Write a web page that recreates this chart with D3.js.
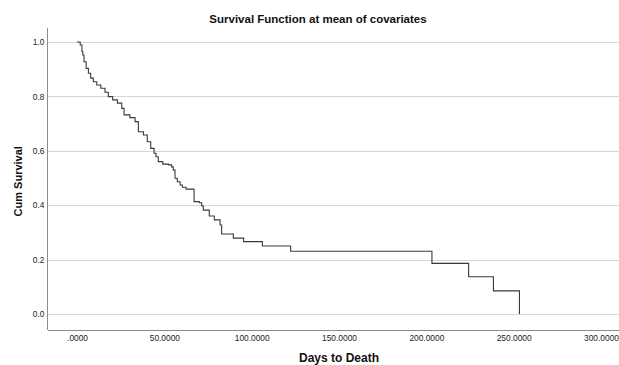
<!DOCTYPE html>
<html>
<head>
<meta charset="utf-8">
<script src="https://cdn.jsdelivr.net/npm/d3@7"></script>
<style>
  body { margin: 0; background: #fff; }
  svg { display: block; font-family: "Liberation Sans", Arial, sans-serif; }
</style>
</head>
<body>
<div id="container"></div>
<script>
/* DATA */
// event times (days) and cumulative survival just after each step
const times = [0, 1.8, 2.8, 3.3, 4.0, 5.2, 6.5, 7.8, 9.3, 11.3, 13.6, 16.0, 17.9, 20.4, 23.1, 25.6,
  26.9, 30.3, 33.2, 35.1, 38.0, 40.2, 42.2, 44.1, 45.2, 46.5, 49.1, 52.3, 54.2, 55.1, 56.1, 57.4,
  59.0, 60.3, 62.4, 67.0, 70.0, 71.4, 72.3, 75.7, 78.6, 81.9, 82.8, 89.5, 95.4, 106.1, 122.3,
  203.2, 224.2, 238.4, 253.3];
const survival = [1.000, 0.989, 0.965, 0.952, 0.927, 0.903, 0.885, 0.867, 0.854, 0.842, 0.830, 0.815,
  0.799, 0.787, 0.775, 0.756, 0.732, 0.722, 0.707, 0.670, 0.658, 0.633, 0.609, 0.591, 0.578, 0.560,
  0.551, 0.548, 0.541, 0.529, 0.499, 0.486, 0.474, 0.466, 0.459, 0.413, 0.409, 0.397, 0.382, 0.360,
  0.346, 0.327, 0.294, 0.279, 0.266, 0.250, 0.2305, 0.186, 0.137, 0.085, 0.000];
const xTicks = [0, 50, 100, 150, 200, 250, 300];
const yTicks = [0, 0.2, 0.4, 0.6, 0.8, 1.0];

/* CONSTANTS */
const width = 619, height = 365;
const plot = { left: 47, right: 619, top: 27, bottom: 329.5 };

const svg = d3.select("#container").append("svg")
  .attr("width", width)
  .attr("height", height);

/* SCALES */
const xScale = d3.scaleLinear()
  .domain([-17.2, 310.3])
  .range([plot.left, plot.right]);

const yScale = d3.scaleLinear()
  .domain([-0.057, 1.055])
  .range([plot.bottom, plot.top]);

// gridlines
svg.append("g")
  .attr("transform", `translate(${plot.left},0)`)
  .call(d3.axisLeft(yScale).tickValues(yTicks).tickSize(-(plot.right - plot.left)).tickFormat(""))
  .call(g => g.select(".domain").remove())
  .call(g => g.selectAll("line").attr("stroke", "#d6d6d6").attr("shape-rendering", "crispEdges"));

// y axis
svg.append("g")
  .attr("transform", `translate(${plot.left},0)`)
  .call(d3.axisLeft(yScale).tickValues(yTicks).tickSize(0).tickSizeOuter(0).tickPadding(2.5).tickFormat(d3.format(".1f")))
  .call(g => g.select(".domain").attr("stroke", "#8c8c8c").attr("shape-rendering", "crispEdges"))
  .call(g => g.selectAll("text").attr("font-size", "8.4px").attr("fill", "#222").attr("font-family", null));

// x axis
svg.append("g")
  .attr("transform", `translate(0,${plot.bottom})`)
  .call(d3.axisBottom(xScale).tickValues(xTicks).tickSize(0).tickSizeOuter(0).tickPadding(6)
    .tickFormat(d => d === 0 ? ".0000" : d3.format(".4f")(d)))
  .call(g => g.select(".domain").attr("stroke", "#8c8c8c").attr("shape-rendering", "crispEdges"))
  .call(g => g.selectAll("text").attr("font-size", "8.4px").attr("fill", "#222").attr("font-family", null));

// survival step curve
const pts = times.map((t, i) => [t, survival[i]]);
const line = d3.line()
  .x(d => xScale(d[0]))
  .y(d => yScale(d[1]))
  .curve(d3.curveStepAfter);

svg.append("path")
  .datum(pts)
  .attr("d", line)
  .attr("fill", "none")
  .attr("stroke", "#383838")
  .attr("stroke-width", 1.1);

// titles
svg.append("text")
  .attr("x", 318)
  .attr("y", 23)
  .attr("text-anchor", "middle")
  .attr("font-size", "11.5px")
  .attr("font-weight", "bold")
  .attr("fill", "#111")
  .text("Survival Function at mean of covariates");

svg.append("text")
  .attr("transform", `translate(21.5,${(plot.top + plot.bottom) / 2 + 3}) rotate(-90)`)
  .attr("text-anchor", "middle")
  .attr("font-size", "11px")
  .attr("font-weight", "bold")
  .attr("fill", "#111")
  .text("Cum Survival");

svg.append("text")
  .attr("x", 339)
  .attr("y", 361.5)
  .attr("text-anchor", "middle")
  .attr("font-size", "12px")
  .attr("font-weight", "bold")
  .attr("fill", "#111")
  .text("Days to Death");
</script>
</body>
</html>
